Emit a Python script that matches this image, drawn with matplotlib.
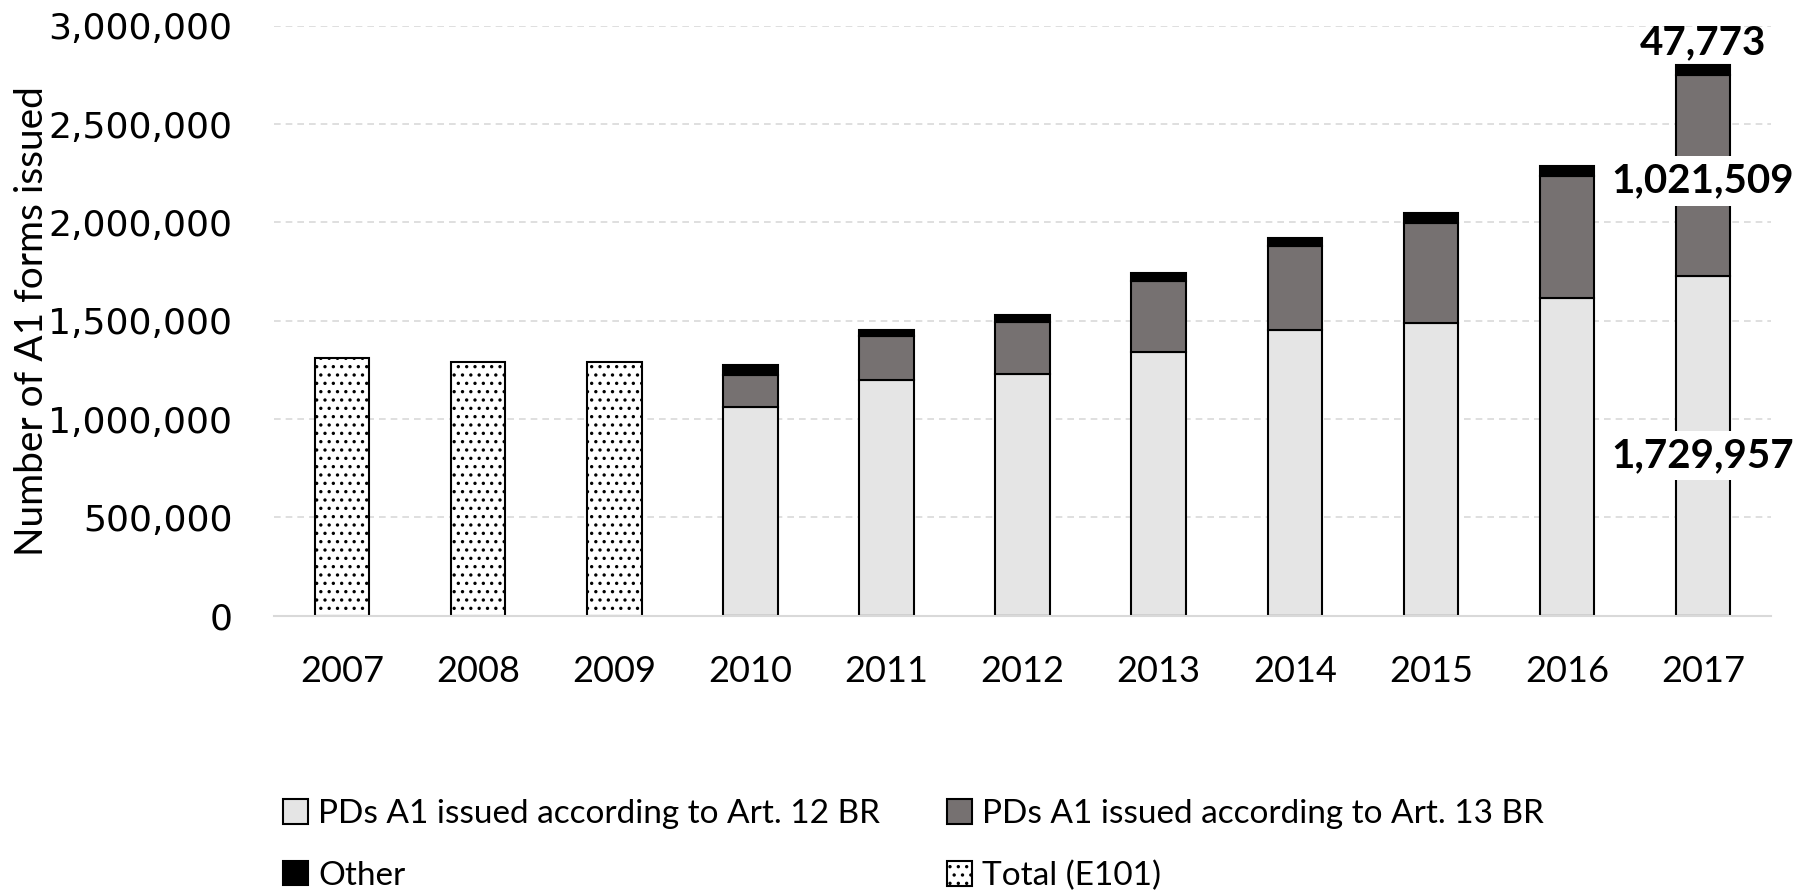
import numpy as np
import matplotlib
matplotlib.use("Agg")
from matplotlib import pyplot as plt
from matplotlib.ticker import FuncFormatter

# Number of A1 / E101 forms issued per year
years = ["2007", "2008", "2009", "2010", "2011", "2012", "2013", "2014", "2015", "2016", "2017"]
total_e101 = [1310000, 1291000, 1291000, 0, 0, 0, 0, 0, 0, 0, 0]
art12 = [0, 0, 0, 1059000, 1201000, 1230000, 1340000, 1454000, 1487000, 1616000, 1729957]
art13 = [0, 0, 0, 163000, 219000, 266000, 364000, 426000, 511000, 622000, 1021509]
other = [0, 0, 0, 54000, 34000, 33000, 37000, 43000, 49000, 51000, 47773]

c_art12 = "#e5e5e5"
c_art13 = "#767171"
c_other = "#000000"
calibri = "Lato"

fig = plt.figure(figsize=(18.08, 8.91), dpi=100)
ax = fig.add_axes([0.1516, 0.309, 0.828, 0.662])

x = np.arange(len(years))
w = 0.40
a12 = np.array(art12)
a13 = np.array(art13)
oth = np.array(other)

b12 = ax.bar(x, a12, w, color=c_art12, edgecolor="black", linewidth=1.5,
             label="PDs A1 issued according to Art. 12 BR", zorder=3)
b13 = ax.bar(x, a13, w, bottom=a12, color=c_art13, edgecolor="black", linewidth=1.5,
             label="PDs A1 issued according to Art. 13 BR", zorder=3)
bo = ax.bar(x, oth, w, bottom=a12 + a13, color=c_other, edgecolor="black", linewidth=1.5,
            label="Other", zorder=3)
plt.rcParams["hatch.linewidth"] = 1.2
bt = ax.bar(x, total_e101, w, color="white", edgecolor="black", linewidth=1.5,
            hatch="..", label="Total (E101)", zorder=3)

# value labels on the last year
last = len(years) - 1
lab_kw = dict(ha="center", va="center", fontsize=29, fontweight="bold",
              family=calibri, zorder=5,
              bbox=dict(boxstyle="square,pad=0.15", fc="white", ec="none"))
ax.text(x[last], a12[last] / 2 - 50000, f"{art12[last]:,}", **lab_kw)
ax.text(x[last], a12[last] + a13[last] / 2 - 30000, f"{art13[last]:,}", **lab_kw)
ax.text(x[last], a12[last] + a13[last] + oth[last] + 115000, f"{other[last]:,}",
        ha="center", va="center", fontsize=29, fontweight="bold", family=calibri, zorder=5)

ax.set_xlim(-0.5, len(years) - 0.5)
ax.set_ylim(0, 3000000)
ax.set_yticks(np.arange(0, 3000001, 500000))
ax.yaxis.set_major_formatter(FuncFormatter(lambda v, p: f"{int(v):,}"))
ax.set_xticks(x)
ax.set_xticklabels(years, family=calibri, fontsize=26)
for t in ax.get_yticklabels():
    t.set_fontsize(26)
ax.tick_params(axis="both", length=0)
ax.tick_params(axis="x", pad=28)
ax.tick_params(axis="y", pad=30)

ax.grid(axis="y", color="#d9d9d9", linestyle=(0, (4, 3)), linewidth=1.2, zorder=0)
for s in ["top", "right", "left"]:
    ax.spines[s].set_visible(False)
ax.spines["bottom"].set_color("#d9d9d9")
ax.spines["bottom"].set_linewidth(1.5)
ax.spines["bottom"].set_zorder(4)

ax.set_ylabel("Number of A1 forms issued", family=calibri, fontsize=28)
ax.yaxis.set_label_coords(-0.15, 0.5)

handles = [b12, bo, b13, bt]
labels = [h.get_label() for h in handles]
fig.legend(handles, labels, ncol=2, loc="upper left", bbox_to_anchor=(0.14, 0.137),
           frameon=False, prop={"family": calibri, "size": 24},
           handlelength=0.75, handleheight=0.75, handletextpad=0.3,
           columnspacing=2.0, labelspacing=0.95)

fig.savefig("out.png", dpi=100)
